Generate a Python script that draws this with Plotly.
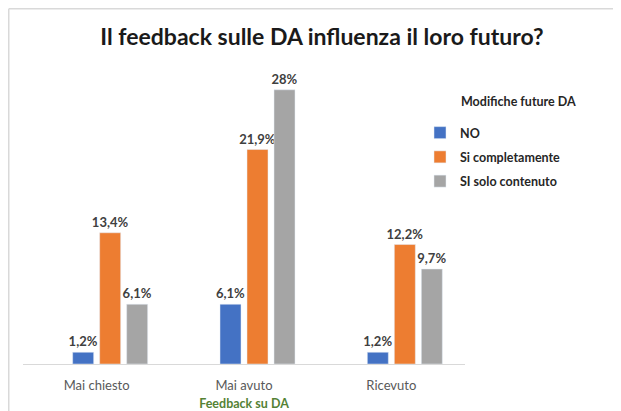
import plotly.graph_objects as go

categories = ["Mai chiesto", "Mai avuto", "Ricevuto"]
series_names = ["NO", "Si completamente", "SI solo contenuto"]
values_no = [1.2, 6.1, 1.2]
values_si_compl = [13.4, 21.9, 12.2]
values_si_solo = [6.1, 28.0, 9.7]
labels_no = ["1,2%", "6,1%", "1,2%"]
labels_si_compl = ["13,4%", "21,9%", "12,2%"]
labels_si_solo = ["6,1%", "28%", "9,7%"]
colors = ["#4472C4", "#ED7D31", "#A5A5A5"]

# page body has an 8px margin; work in page pixels and offset
OFF = 8
W, H = 621 - OFF, 411 - OFF
L, R, T, B = 23 - OFF, 465 - OFF, 80 - OFF, 364 - OFF
CAT = (R - L) / 3.0  # pixels per category

def px(x):  # page pixel -> paper
    return (x - OFF - L) / (R - L)

def py(y):
    return (B - (y - OFF)) / (B - T)

bar_w = 21 / CAT
offsets = [-24 / CAT, 3 / CAT, 30 / CAT]

fig = go.Figure()
for name, vals, labs, col, off in zip(series_names,
                                      [values_no, values_si_compl, values_si_solo],
                                      [labels_no, labels_si_compl, labels_si_solo],
                                      colors, offsets):
    fig.add_trace(go.Bar(
        x=categories, y=vals, name=name, marker_color=col,
        width=bar_w, offset=off,
        text=labs, textposition="outside", cliponaxis=False,
        constraintext="none",
        textfont=dict(family="Lato", size=13, color="#404040", weight="bold"),
        legendgroup=name, hoverinfo="skip",
    ))

fig.update_layout(
    width=W, height=H,
    margin=dict(l=L, r=W - R, t=T, b=H - B, pad=0, autoexpand=False),
    paper_bgcolor="white", plot_bgcolor="white",
    barmode="overlay",
    title=dict(text="Il feedback sulle DA influenza il loro futuro?",
               x=(322 - OFF) / W, xanchor="center", y=1 - (37 - OFF) / H, yanchor="middle",
               font=dict(family="Lato", size=23, color="#1a1a1a", weight="bold")),
    font=dict(family="Lato", size=12, color="#595959"),
    legend=dict(x=px(420), xanchor="left", y=py(118), yanchor="top",
                traceorder="grouped", tracegroupgap=5,
                font=dict(family="Lato", size=12.5, color="#262626", weight="bold"),
                itemwidth=30, bgcolor="rgba(0,0,0,0)"),
    xaxis=dict(showline=True, linecolor="#D9D9D9", linewidth=1,
               ticks="", ticklabelstandoff=9, automargin=False,
               tickfont=dict(size=13, color="#595959"),
               title=dict(text="Feedback su DA", standoff=9,
                          font=dict(size=12.5, color="#548235", weight="bold"))),
    yaxis=dict(range=[0, 29], visible=False, showgrid=False, zeroline=False,
               automargin=False),
    showlegend=True,
)

fig.add_annotation(text="Modifiche future DA", xref="paper", yref="paper",
                   x=px(459), y=py(101), xanchor="left", yanchor="middle",
                   showarrow=False,
                   font=dict(family="Lato", size=12.5, color="#262626", weight="bold"))

# chart-area frame lines
frame = "#D9D9D9"
fig.add_shape(type="line", xref="paper", yref="paper",
              x0=px(8.75), x1=px(621), y0=py(8.75), y1=py(8.75), line=dict(color=frame, width=1.5))
fig.add_shape(type="line", xref="paper", yref="paper",
              x0=px(8.75), x1=px(8.75), y0=py(8.75), y1=py(411), line=dict(color=frame, width=1.5))

fig.write_html("out.html")
